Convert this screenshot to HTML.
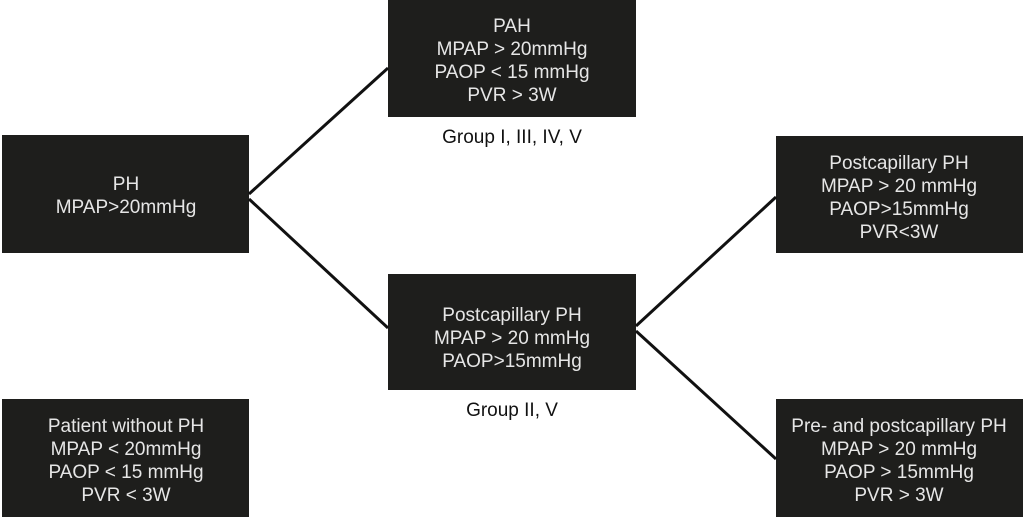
<!DOCTYPE html>
<html><head><style>body{margin:0;background:#fff}svg{display:block}</style></head><body>
<svg width="1024" height="517" viewBox="0 0 1024 517" xmlns="http://www.w3.org/2000/svg" font-family="Liberation Sans, Arial, sans-serif" font-size="19" text-anchor="middle">
<g fill="#1e1e1c">
<rect x="388" y="0" width="248" height="117"/>
<rect x="2" y="135" width="247" height="118"/>
<rect x="388" y="274" width="248" height="116"/>
<rect x="776" y="136" width="247" height="117"/>
<rect x="776" y="399" width="247" height="118"/>
<rect x="2" y="399" width="247" height="118"/>
</g>
<g stroke="#111" stroke-width="3" fill="none">
<line x1="249" y1="194" x2="388" y2="68"/>
<line x1="249" y1="199" x2="388" y2="328"/>
<line x1="636" y1="326" x2="776" y2="197"/>
<line x1="636" y1="331" x2="776" y2="459"/>
</g>
<g fill="#e6e6e6">
<text x="512" y="32">PAH</text>
<text x="512" y="55">MPAP &gt; 20mmHg</text>
<text x="512" y="78">PAOP &lt; 15 mmHg</text>
<text x="512" y="101">PVR &gt; 3W</text>
<text x="126" y="190">PH</text>
<text x="126" y="213">MPAP&gt;20mmHg</text>
<text x="512" y="321">Postcapillary PH</text>
<text x="512" y="344">MPAP &gt; 20 mmHg</text>
<text x="512" y="367">PAOP&gt;15mmHg</text>
<text x="899" y="169">Postcapillary PH</text>
<text x="899" y="192">MPAP &gt; 20 mmHg</text>
<text x="899" y="215">PAOP&gt;15mmHg</text>
<text x="899" y="238">PVR&lt;3W</text>
<text x="899" y="432">Pre- and postcapillary PH</text>
<text x="899" y="455">MPAP &gt; 20 mmHg</text>
<text x="899" y="478">PAOP &gt; 15mmHg</text>
<text x="899" y="501">PVR &gt; 3W</text>
<text x="126" y="432">Patient without PH</text>
<text x="126" y="455">MPAP &lt; 20mmHg</text>
<text x="126" y="478">PAOP &lt; 15 mmHg</text>
<text x="126" y="501">PVR &lt; 3W</text>
</g>
<g fill="#111">
<text x="512" y="143">Group I, III, IV, V</text>
<text x="512" y="416">Group II, V</text>
</g>
</svg>
</body></html>
